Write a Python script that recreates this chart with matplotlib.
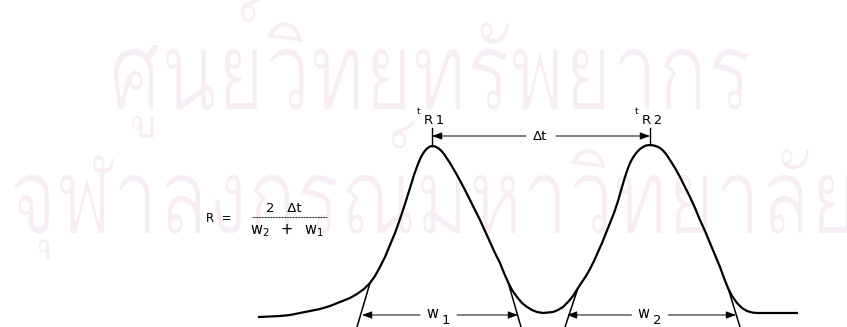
import matplotlib
matplotlib.use("Agg")
import matplotlib.pyplot as plt
from matplotlib.textpath import TextPath
from matplotlib.font_manager import FontProperties
from matplotlib.patches import PathPatch
from matplotlib.transforms import Affine2D

# chromatogram trace (x = time, y = signal above baseline)
time = [259, 270, 280, 290, 300, 310, 320, 330, 340, 350, 357, 364, 370, 375, 380,
        385, 390, 395, 400, 405, 410, 414, 418, 421, 424, 427, 430, 432, 435, 438,
        441, 444, 447, 450, 455, 460, 465, 470, 475, 480, 485, 490, 495, 500, 504,
        508, 512, 517, 522, 527, 532, 537, 543, 548, 553, 558, 563, 568, 573, 578,
        582, 586, 590, 594, 598, 602, 606, 610, 614, 618, 622, 625, 628, 631, 634,
        637, 640, 643, 646, 650, 654, 657, 660, 663, 666, 670, 675, 680, 685, 690,
        695, 700, 705, 710, 715, 720, 724, 728, 732, 737, 742, 747, 752, 757, 770,
        797]
signal = [-2, -1.5, -1, 0, 2, 4, 6, 9, 13, 17, 21, 26, 32, 39, 48,
          58, 70, 82, 96, 111, 127, 140, 151, 158, 163, 166.5, 168.5, 169, 168.5, 167,
          164.5, 161, 156.5, 152, 143.5, 134.5, 125, 115, 105, 95, 84, 73, 62, 52, 42,
          33, 25, 18, 12, 8, 5, 3, 2, 2.5, 3, 5, 8, 13, 19, 27,
          33, 39, 46, 54, 63, 72, 82, 92, 102, 114, 128, 138, 147, 154, 159,
          163, 166, 168, 169.5, 170, 169.5, 168.5, 167, 164.5, 161, 155, 147, 138, 128, 118,
          107, 95, 84, 72, 60, 48, 37, 27, 19, 12, 7, 4, 2.5, 2, 2,
          2]

t_r = [432, 650]
peak_top = [169, 170]
labels_r = ["R\u20091", "R\u20092"]

# tangents: (x on curve, signal on curve, x at bottom edge)
tan_x0 = [370, 508, 578, 728]
tan_y0 = [32, 33, 27, 27]
tan_x1 = [357, 521, 565, 740]

w_left = [362, 567]
w_right = [518, 736]
w_names = ["1", "2"]

watermark = ["ศูนย์วิทยทรัพยากร", "จุฬาลงกรณ์มหาวิทยาลัย"]

fig = plt.figure(figsize=(8.47, 3.27), dpi=100)
ax = fig.add_axes([0, 0, 1, 1])
ax.set_xlim(0, 847)
ax.set_ylim(-12, 315)
ax.axis("off")

# watermark, stretched into the box it takes in the scan
fp = FontProperties(family="Loma")
body = TextPath((0, 0), "น", size=1, prop=fp).get_extents().ymax
wm_left = [113, 13]
wm_width = [636, 838]
wm_base = [315 - 110, 315 - 234]
wm_body = [62, 60]
for i in range(2):
  p = TextPath((0, 0), watermark[i], size=1, prop=fp)
  ext = p.get_extents()
  tr = Affine2D().translate(-ext.xmin, 0).scale(wm_width[i] / ext.width, wm_body[i] / body)
  tr = tr.translate(wm_left[i], wm_base[i])
  # white edge thins the stretched strokes a little
  ax.add_patch(PathPatch(tr.transform_path(p), fc="#f8ecf5", ec="white", lw=1.5, zorder=0))

ax.plot(time, signal, color="black", lw=1.6)
for i in range(len(tan_x0)):
  ax.plot([tan_x0[i], tan_x1[i]], [tan_y0[i], -12], color="black", lw=1.1)

# retention time ticks and labels
for i in range(2):
  ax.plot([t_r[i], t_r[i]], [peak_top[i], 187], color="black", lw=1.0)
  ax.text(t_r[i] - 13, 203, "t", fontsize=6.5, ha="center", va="center", family="DejaVu Sans")
  ax.text(t_r[i] - 8, 195, labels_r[i], fontsize=9.5, ha="left", va="center", family="DejaVu Sans")

arr = dict(arrowstyle="-|>,head_length=0.6,head_width=0.22", color="black", lw=0.7, shrinkA=0, shrinkB=0)
ax.annotate("", xy=(t_r[0], 179), xytext=(526, 179), arrowprops=arr)
ax.annotate("", xy=(t_r[1], 179), xytext=(556, 179), arrowprops=arr)
ax.text(540, 178, "Δt", fontsize=9.5, ha="center", va="center", family="DejaVu Sans")

# peak widths at the baseline
for i in range(2):
  mid = (w_left[i] + w_right[i]) / 2
  ax.annotate("", xy=(w_left[i], 0), xytext=(mid - 20, 0), arrowprops=arr)
  ax.annotate("", xy=(w_right[i], 0), xytext=(mid + 17, 0), arrowprops=arr)
  ax.text(mid - 8, 2, "w", fontsize=10.5, ha="center", va="center", family="DejaVu Sans")
  ax.text(mid + 6, -5, w_names[i], fontsize=9.5, ha="center", va="center", family="DejaVu Sans")

# resolution formula
ax.text(206, 97, "R  =", fontsize=8.5, ha="left", va="center", family="DejaVu Sans")
ax.plot([252, 327], [98, 98], color="black", lw=0.7, ls=(0, (1, 0.6)))
ax.text(284, 106, "2   Δt", fontsize=9.5, ha="center", va="center", family="DejaVu Sans")
ax.text(250, 84, r"$\mathregular{w_2\;\ +\;\ w_1}$", fontsize=10.5, ha="left", va="center",
        family="DejaVu Sans")

fig.savefig("out.png", dpi=100)
